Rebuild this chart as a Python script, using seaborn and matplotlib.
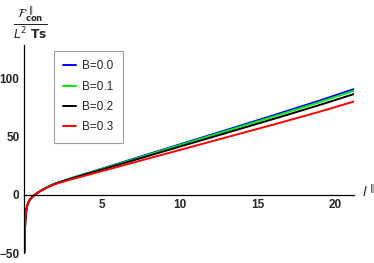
import numpy as np
import pandas as pd
import seaborn as sns
import matplotlib
matplotlib.use("Agg")
import matplotlib.pyplot as plt
import matplotlib.ticker as ticker

# values
l_vals = [0.05, 0.07, 0.1, 0.15, 0.2, 0.3, 0.4, 0.5, 0.7, 1.0, 1.5, 2, 3, 4, 5, 7, 10, 13, 16, 19, 21.2]

near_origin = [-50, -34, -23, -15, -10.5, -6.5, -4, -2.5, 0, 2.8]

f_b00 = near_origin + [6.6, 9.7, 14.2, 18.4, 22.5, 30.9, 43.4, 55.8, 68.4, 81.2, 91.1]
f_b01 = near_origin + [6.6, 9.6, 14.1, 18.2, 22.3, 30.4, 42.8, 55.0, 67.3, 79.9, 89.6]
f_b02 = near_origin + [6.5, 9.5, 13.8, 17.8, 21.7, 29.6, 41.5, 53.3, 65.2, 77.4, 86.8]
f_b03 = near_origin + [6.3, 9.2, 13.2, 16.8, 20.4, 27.7, 38.6, 49.5, 60.4, 71.6, 80.4]

labels = ["B=0.0", "B=0.1", "B=0.2", "B=0.3"]
colors = ["#0000ff", "#00ee00", "#000000", "#ff0000"]

rows = []
for lab, ys in zip(labels, [f_b00, f_b01, f_b02, f_b03]):
	for x, y in zip(l_vals, ys):
		rows.append({"l": x, "F": y, "B": lab})
df = pd.DataFrame(rows)

sns.set_style("white")

fig = plt.figure(figsize=(3.74, 2.63), dpi=100)
ax = fig.add_axes([23.7/374, 10/263, (354-23.7)/374, 208/263])

sns.lineplot(data=df, x="l", y="F", hue="B", palette=dict(zip(labels, colors)),
	estimator=None, sort=False, linewidth=1.4, ax=ax)

ax.set_xlim(0, 21.2)
ax.set_ylim(-50, 129)

ax.spines['right'].set_visible(False)
ax.spines['top'].set_visible(False)
ax.spines['left'].set_position(('data', 0))
ax.spines['bottom'].set_position(('data', 0))
for s in ['left', 'bottom']:
	ax.spines[s].set_linewidth(0.9)
	ax.spines[s].set_color("black")

ax.set_xticks([5, 10, 15, 20])
ax.xaxis.set_minor_locator(ticker.MultipleLocator(1))
ax.set_yticks([-50, 0, 50, 100])
ax.yaxis.set_minor_locator(ticker.MultipleLocator(10))

ax.tick_params(which='both', direction='in', color='black', width=0.7)
ax.tick_params(which='major', length=4, labelsize=8.5, pad=3)
ax.tick_params(which='minor', length=2)
ax.set_yticklabels(["\u221250", "0", "50", "100"])
for lbl in ax.get_xticklabels() + ax.get_yticklabels():
	lbl.set_fontweight("bold")
	lbl.set_family("Liberation Sans")

ax.set_xlabel("")
ax.set_ylabel("")

fig.text(30/374, 1-23/263, r"$\frac{\mathcal{F}^{\,\parallel}_{\mathbf{con}}}{L^2\ \mathbf{Ts}}$",
	ha="center", va="center", fontsize=12.5)
fig.text(362/374, 1-192/263, r"$l^{\,\parallel}$", ha="left", va="center", fontsize=9.5)

leg = ax.legend(loc="upper left", bbox_to_anchor=(54/374, 1-51/263), bbox_transform=fig.transFigure,
	fontsize=8.5, frameon=True, fancybox=False, edgecolor="#888888",
	handlelength=1.1, handletextpad=0.5, labelspacing=0.7, borderpad=0.8, borderaxespad=0)
leg.get_frame().set_linewidth(0.8)
for t in leg.get_texts():
	t.set_family("Liberation Sans")

plt.savefig("out.png", dpi=100)
